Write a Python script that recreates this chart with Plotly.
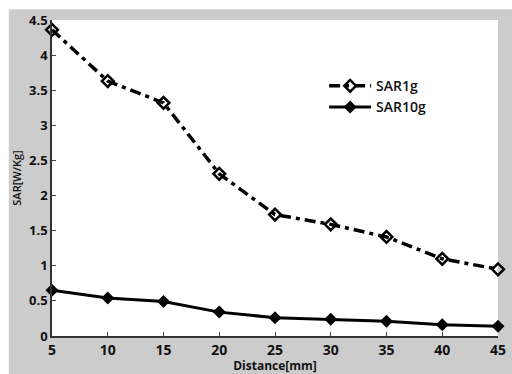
import plotly.graph_objects as go

distance = [5, 10, 15, 20, 25, 30, 35, 40, 45]
sar1g = [4.36, 3.63, 3.32, 2.31, 1.73, 1.59, 1.41, 1.10, 0.95]
sar10g = [0.65, 0.54, 0.49, 0.34, 0.26, 0.24, 0.21, 0.16, 0.14]
y_ticks = [0, 0.5, 1, 1.5, 2, 2.5, 3, 3.5, 4, 4.5]
y_labels = ["0", "0.5", "1", "1.5", "2", "2.5", "3", "3.5", "4", "4.5"]

W, H = 512, 374
L, R, T, B = 52, 6, 20, 33
pw, ph = W - L - R, H - T - B

fig = go.Figure()
fig.add_trace(go.Scatter(
    x=distance, y=sar1g, name="SAR1g", mode="lines+markers",
    line=dict(color="black", width=3.5, dash="11px,5px,4px,5px"),
    marker=dict(symbol="diamond-open", size=9, color="black", line=dict(width=2.5, color="black")),
    cliponaxis=False))
fig.add_trace(go.Scatter(
    x=distance, y=sar10g, name="SAR10g", mode="lines+markers",
    line=dict(color="black", width=3),
    marker=dict(symbol="diamond", size=10, color="black"),
    cliponaxis=False))

font = dict(family="Open Sans, DejaVu Sans, sans-serif", color="#111", size=13, weight="bold")

fig.update_layout(
    width=W, height=H,
    margin=dict(l=L, r=R, t=T, b=B),
    paper_bgcolor="#cccccc", plot_bgcolor="white",
    font=font,
    showlegend=True,
    legend=dict(x=(329 - L) / pw, y=(341 - 71) / ph, xanchor="left", yanchor="top",
                bgcolor="rgba(0,0,0,0)", font=dict(size=14, weight=600),
                tracegroupgap=0, itemwidth=42),
    xaxis=dict(range=[5, 45], tickvals=distance, ticks="inside", ticklen=4,
               ticklabeloverflow="allow",
               showline=True, linecolor="#333", linewidth=1.5, showgrid=False, zeroline=False,
               tickfont=dict(size=14, weight="bold"),
               title=dict(text="Distance[mm]", font=dict(size=12, weight="bold"), standoff=1)),
    yaxis=dict(range=[0, 4.5], tickvals=y_ticks, ticktext=y_labels,
               ticks="inside", ticklen=4, ticklabeloverflow="allow",
               showline=True, linecolor="#333", linewidth=1.5, showgrid=False, zeroline=False,
               tickfont=dict(size=13, weight="bold"),
               title=dict(text="SAR[W/Kg]", font=dict(size=11, weight=600), standoff=5)),
    shapes=[
        dict(type="rect", xref="paper", yref="paper",
             x0=(0 - L) / pw - 0.05, x1=(8 - L) / pw,
             y0=-B / ph - 0.1, y1=(H - B) / ph + 0.1,
             fillcolor="white", line=dict(width=0), layer="above"),
        dict(type="rect", xref="paper", yref="paper",
             x0=(0 - L) / pw - 0.05, x1=(W - L) / pw + 0.05,
             y0=(H - B - 9) / ph, y1=(H - B) / ph + 0.1,
             fillcolor="white", line=dict(width=0), layer="above"),
    ],
)

fig.write_html("out.html", post_script="document.body.style.margin='0';",
               config={"displayModeBar": False})
